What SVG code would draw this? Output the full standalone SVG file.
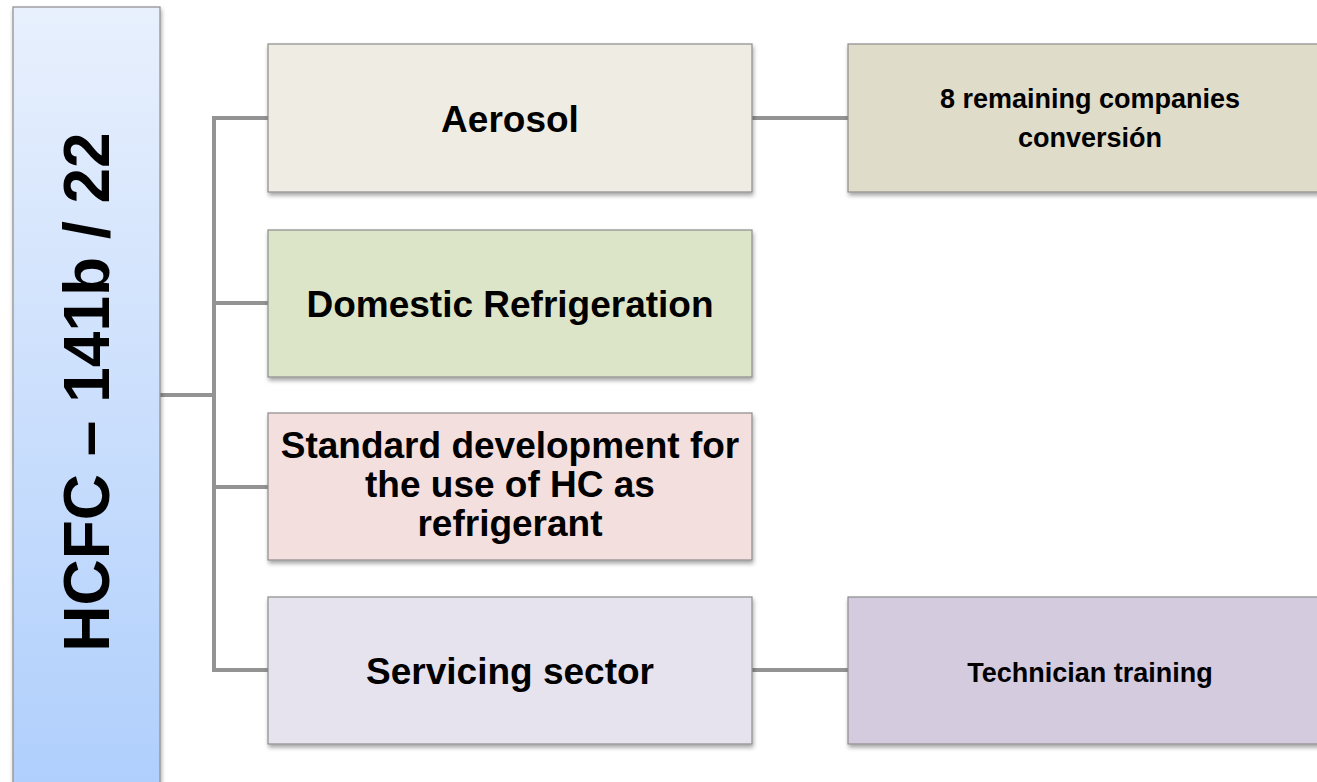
<svg xmlns="http://www.w3.org/2000/svg" width="1317" height="782" viewBox="0 0 1317 782">
  <defs>
    <linearGradient id="gTitle" x1="0" y1="0" x2="0" y2="1">
      <stop offset="0" stop-color="#E8F0FD"/>
      <stop offset="1" stop-color="#AECEFC"/>
    </linearGradient>
    <filter id="shadow" x="-5%" y="-10%" width="115%" height="130%">
      <feDropShadow dx="1" dy="3" stdDeviation="2" flood-color="#000" flood-opacity="0.35"/>
    </filter>
  </defs>
  <style>
    .box { stroke: #8C8C8C; stroke-width: 1.2; filter: url(#shadow); }
    .lbl { font-family: "Liberation Sans", Arial, sans-serif; font-weight: bold; fill: #000; text-anchor: middle; }
    .big { font-size: 37px; }
    .small { font-size: 27px; }
    .conn { fill: none; stroke: #939393; stroke-width: 4; }
  </style>
  <rect width="1317" height="782" fill="#FFFFFF"/>

  <g id="connectors">
    <path class="conn" d="M160,395 H214"/>
    <path class="conn" d="M268,118 H214 V670 H268"/>
    <path class="conn" d="M214,303 H268"/>
    <path class="conn" d="M214,487 H268"/>
    <path class="conn" d="M752,118 H848"/>
    <path class="conn" d="M752,670 H848"/>
  </g>

  <g id="title">
    <rect class="box" x="13" y="7" width="147" height="800" fill="url(#gTitle)"/>
    <text class="lbl" font-size="64" transform="translate(109,392) rotate(-90)">HCFC – 141b / 22</text>
  </g>

  <g id="aerosol">
    <rect class="box" x="268" y="44" width="484" height="148" fill="#EFECE4"/>
    <text class="lbl big" x="510" y="131.5">Aerosol</text>
  </g>

  <g id="domestic">
    <rect class="box" x="268" y="230" width="484" height="147" fill="#DCE5C7"/>
    <text class="lbl big" x="510" y="316.5">Domestic Refrigeration</text>
  </g>

  <g id="standard">
    <rect class="box" x="268" y="413" width="484" height="147" fill="#F3DFDE"/>
    <text class="lbl big" x="510" y="458">Standard development for</text>
    <text class="lbl big" x="510" y="497">the use of HC as</text>
    <text class="lbl big" x="510" y="536">refrigerant</text>
  </g>

  <g id="servicing">
    <rect class="box" x="268" y="597" width="484" height="147" fill="#E6E3EE"/>
    <text class="lbl big" x="510" y="684">Servicing sector</text>
  </g>

  <g id="companies">
    <rect class="box" x="848" y="44" width="490" height="148" fill="#DFDCC9"/>
    <text class="lbl small" x="1090" y="108">8 remaining companies</text>
    <text class="lbl small" x="1090" y="147">conversión</text>
  </g>

  <g id="training">
    <rect class="box" x="848" y="597" width="490" height="147" fill="#D5CBDF"/>
    <text class="lbl small" x="1090" y="681.5">Technician training</text>
  </g>
</svg>
